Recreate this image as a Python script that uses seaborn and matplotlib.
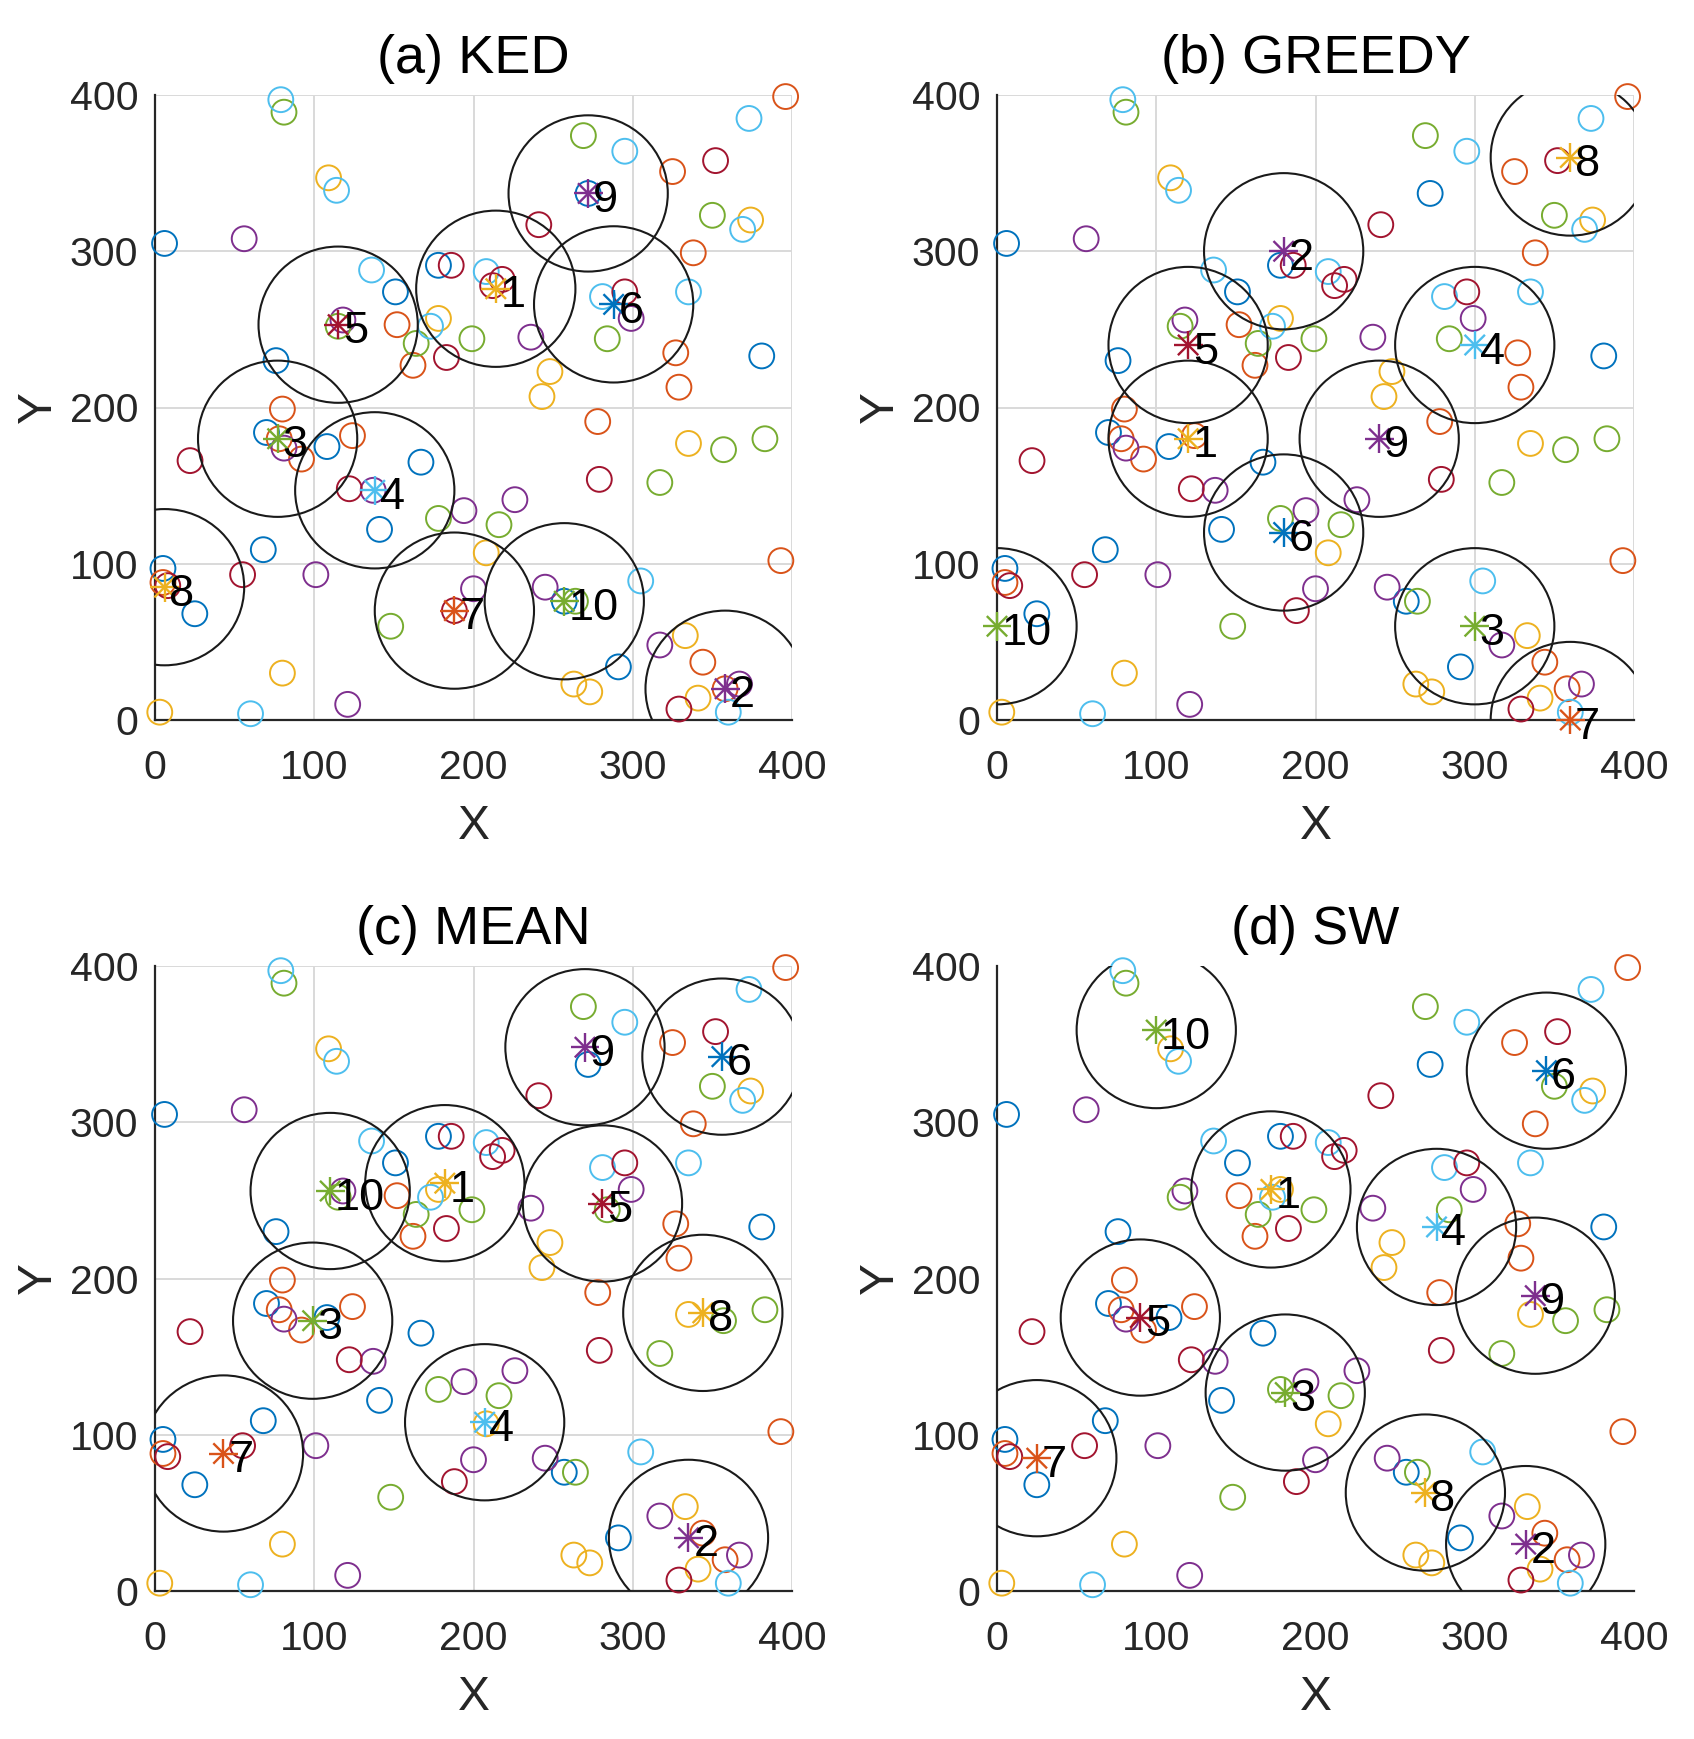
import matplotlib
matplotlib.use("Agg")
import matplotlib.pyplot as plt
from matplotlib.patches import Circle
import pandas as pd
import seaborn as sns

# ---------------- data ----------------
palette = {"blue": "#0072BD", "orange": "#D95319", "yellow": "#EDB120",
           "purple": "#7E2F8E", "green": "#77AC30", "cyan": "#4DBEEE",
           "darkred": "#A2142F"}

blue_x = [6, 178, 151, 76, 272, 381, 70, 108, 167, 141, 68, 5, 25, 257, 291]
blue_y = [305, 291, 274, 230, 337, 233, 184, 175, 165, 122, 109, 97, 68, 76, 34]
orange_x = [152, 162, 80, 396, 325, 338, 327, 329, 278, 78, 92, 124, 5, 393, 344, 358]
orange_y = [253, 227, 199, 399, 351, 299, 235, 213, 191, 180, 167, 182, 88, 102, 37, 20]
yellow_x = [109, 178, 374, 248, 243, 335, 208, 80, 3, 263, 273, 333, 341]
yellow_y = [347, 257, 320, 223, 207, 177, 107, 30, 5, 23, 18, 54, 14]
purple_x = [56, 118, 299, 236, 81, 137, 194, 101, 200, 121, 226, 245, 317, 367]
purple_y = [308, 256, 257, 245, 174, 147, 134, 93, 84, 10, 141, 85, 48, 23]
green_x = [81, 115, 164, 199, 269, 350, 284, 178, 148, 357, 383, 317, 216, 264]
green_y = [389, 252, 241, 244, 374, 323, 244, 129, 60, 173, 180, 152, 125, 76]
cyan_x = [79, 114, 136, 173, 208, 295, 373, 369, 281, 335, 60, 305, 360]
cyan_y = [397, 339, 288, 252, 287, 364, 385, 314, 271, 274, 4, 89, 5]
darkred_x = [186, 241, 352, 212, 218, 295, 183, 22, 122, 55, 8, 188, 279, 329]
darkred_y = [291, 317, 358, 278, 282, 274, 232, 166, 148, 93, 86, 70, 154, 7]

uav_labels = ["1", "2", "3", "4", "5", "6", "7", "8", "9", "10"]
uav_colors = ["yellow", "purple", "green", "cyan", "darkred",
              "blue", "orange", "yellow", "purple", "green"]

ked_x = [214, 358, 77, 138, 115, 288, 188, 6, 272, 257]
ked_y = [276, 20, 180, 147, 253, 266, 70, 85, 337, 76]
greedy_x = [120, 180, 300, 300, 120, 180, 360, 360, 240, 0]
greedy_y = [180, 300, 60, 240, 240, 120, 0, 360, 180, 60]
mean_x = [182, 335, 99, 207, 281, 356, 43, 344, 270, 110]
mean_y = [261, 34, 173, 108, 248, 342, 88, 178, 348, 256]
sw_x = [172, 332, 181, 276, 90, 345, 25, 269, 338, 100]
sw_y = [257, 30, 127, 233, 175, 333, 85, 63, 189, 359]

titles = ["(a) KED", "(b) GREEDY", "(c) MEAN", "(d) SW"]
coverage_radius = 50
ticks = [0, 100, 200, 300, 400]

# ---------------- tables ----------------
groups = [("blue", blue_x, blue_y), ("orange", orange_x, orange_y),
          ("yellow", yellow_x, yellow_y), ("purple", purple_x, purple_y),
          ("green", green_x, green_y), ("cyan", cyan_x, cyan_y),
          ("darkred", darkred_x, darkred_y)]
users = pd.concat([pd.DataFrame({"x": gx, "y": gy, "color": name})
                   for name, gx, gy in groups], ignore_index=True)

methods = [(ked_x, ked_y), (greedy_x, greedy_y), (mean_x, mean_y), (sw_x, sw_y)]

# ---------------- style ----------------
sns.set_style("white")
plt.rcParams["font.family"] = ["Liberation Sans", "DejaVu Sans"]

W, H = 1694, 1739
fig = plt.figure(figsize=(W / 100, H / 100), dpi=100)

axw, axh = 637 / W, 625 / H
lefts = [155 / W, 997 / W]
bottoms = [1 - 720 / H, 1 - 1591 / H]
positions = [(lefts[0], bottoms[0]), (lefts[1], bottoms[0]),
             (lefts[0], bottoms[1]), (lefts[1], bottoms[1])]

dark = "#262626"


def recolor_edges(coll, hollow):
    fc = coll.get_facecolors()
    coll.set_edgecolors(fc)
    if hollow:
        coll.set_facecolors("none")


for k, ((ux, uy), title, (l, b)) in enumerate(zip(methods, titles, positions)):
    ax = fig.add_axes([l, b, axw, axh])
    ax.set_xlim(0, 400)
    ax.set_ylim(0, 400)
    ax.set_xticks(ticks)
    ax.set_yticks(ticks)
    if k < 3:
        ax.grid(True, color="#d9d9d9", lw=1.4)
    else:
        ax.grid(False)
    ax.set_axisbelow(True)
    for s in ["top", "right"]:
        ax.spines[s].set_visible(False)
    for s in ["left", "bottom"]:
        ax.spines[s].set_color(dark)
        ax.spines[s].set_linewidth(1.6)
    ax.tick_params(direction="in", length=5, width=1.2, colors=dark,
                   labelsize=29.5)
    ax.tick_params(axis="x", pad=21)
    ax.tick_params(axis="y", pad=12)

    # users
    sns.scatterplot(data=users, x="x", y="y", hue="color", palette=palette,
                    marker="o", s=320, linewidth=1.4, legend=False, ax=ax,
                    zorder=3, clip_on=False)
    recolor_edges(ax.collections[-1], True)

    uav = pd.DataFrame({"x": ux, "y": uy, "color": uav_colors,
                        "label": uav_labels})
    # coverage circles
    for _, r in uav.iterrows():
        ax.add_patch(Circle((r.x, r.y), coverage_radius, fill=False,
                            ec="#1a1a1a", lw=1.5, zorder=4))
    # asterisk markers (plus + cross)
    sns.scatterplot(data=uav, x="x", y="y", hue="color", palette=palette,
                    marker="+", s=430, linewidth=1.7, legend=False, ax=ax,
                    zorder=5, clip_on=False)
    recolor_edges(ax.collections[-1], False)
    sns.scatterplot(data=uav, x="x", y="y", hue="color", palette=palette,
                    marker="x", s=215, linewidth=1.7, legend=False, ax=ax,
                    zorder=5, clip_on=False)
    recolor_edges(ax.collections[-1], False)
    for _, r in uav.iterrows():
        ax.text(r.x + 3, r.y - 4.5, r.label, fontsize=32.5, ha="left",
                va="center", color="black", zorder=6)

    ax.set_xlim(0, 400)
    ax.set_ylim(0, 400)
    ax.set_title(title, fontsize=39, pad=16, color="black")
    ax.set_xlabel("X", fontsize=34.5, color=dark, labelpad=12)
    ax.set_ylabel("Y", fontsize=34.5, color=dark, labelpad=6)

fig.savefig("out.png", dpi=100, facecolor="white")
